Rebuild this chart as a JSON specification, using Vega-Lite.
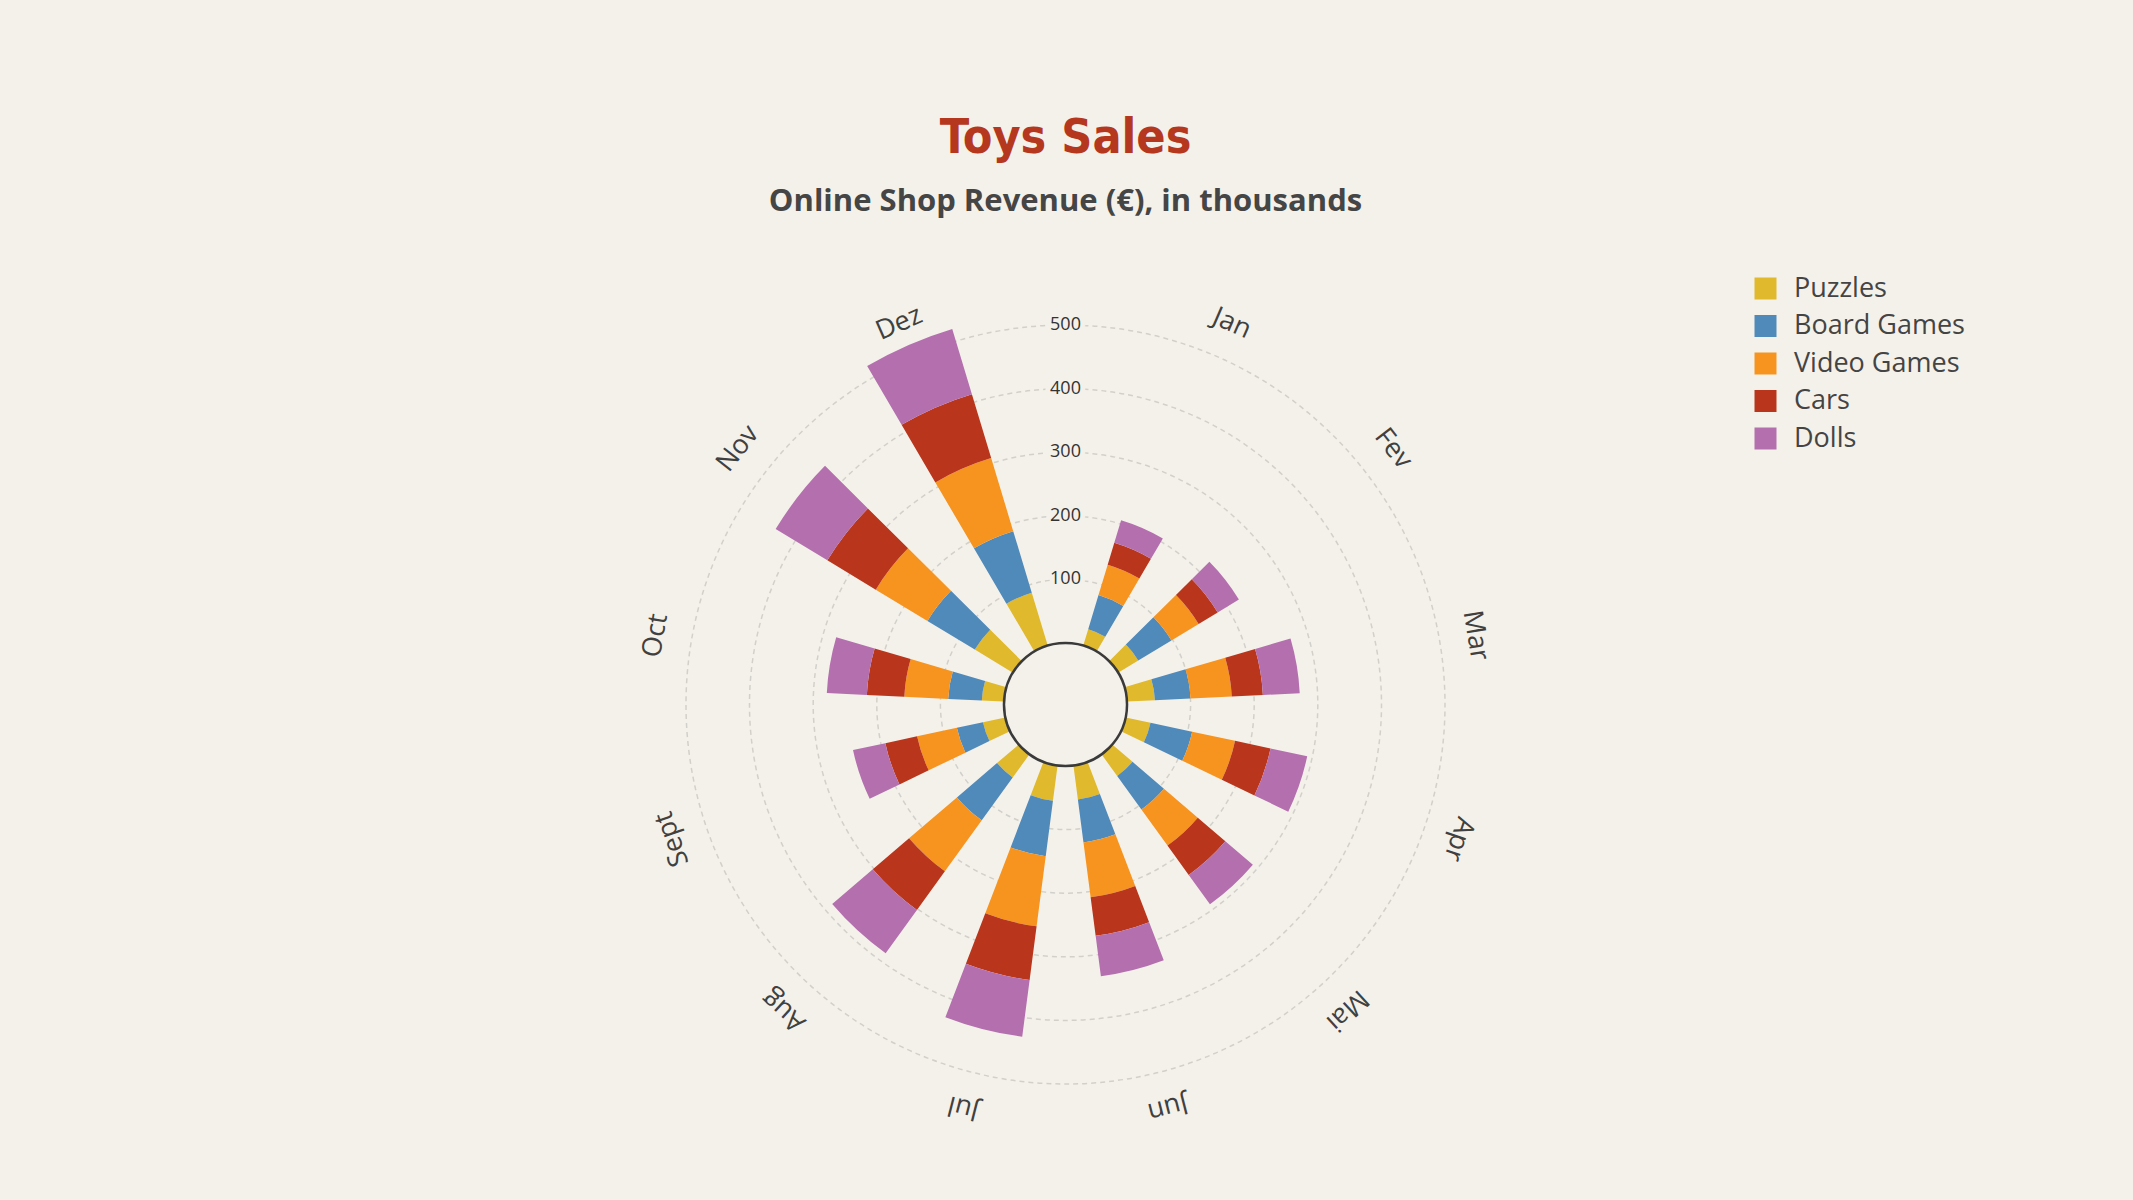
{
  "$schema": "https://vega.github.io/schema/vega-lite/v6.json",
  "description": "Toys sales, radial stacked bars by month",
  "background": "#f4f1ea",
  "autosize": {"type": "none"},
  "padding": {"top": 250, "left": 0, "right": 2, "bottom": 41},
  "width": 2131,
  "height": 909,
  "title": {
    "text": "Toys Sales",
    "subtitle": "Online Shop Revenue (€), in thousands",
    "anchor": "middle",
    "frame": "group",
    "font": "'DejaVu Sans Condensed', Roboto, sans-serif",
    "fontSize": 48,
    "fontWeight": "bold",
    "color": "#b5371e",
    "subtitleFont": "Open Sans",
    "subtitleFontSize": 31,
    "subtitleFontWeight": "bold",
    "subtitleColor": "#454545",
    "subtitlePadding": 24,
    "offset": 33
  },
  "datasets": {
    "sales": [
      {"month": "Jan", "cat": "Puzzles", "value": 27},
      {"month": "Jan", "cat": "Board Games", "value": 56},
      {"month": "Jan", "cat": "Video Games", "value": 50},
      {"month": "Jan", "cat": "Cars", "value": 36},
      {"month": "Jan", "cat": "Dolls", "value": 37},
      {"month": "Fev", "cat": "Puzzles", "value": 37},
      {"month": "Fev", "cat": "Board Games", "value": 61},
      {"month": "Fev", "cat": "Video Games", "value": 50},
      {"month": "Fev", "cat": "Cars", "value": 35},
      {"month": "Fev", "cat": "Dolls", "value": 39},
      {"month": "Mar", "cat": "Puzzles", "value": 44},
      {"month": "Mar", "cat": "Board Games", "value": 56},
      {"month": "Mar", "cat": "Video Games", "value": 65},
      {"month": "Mar", "cat": "Cars", "value": 49},
      {"month": "Mar", "cat": "Dolls", "value": 58},
      {"month": "Apr", "cat": "Puzzles", "value": 40},
      {"month": "Apr", "cat": "Board Games", "value": 67},
      {"month": "Apr", "cat": "Video Games", "value": 69},
      {"month": "Apr", "cat": "Cars", "value": 57},
      {"month": "Apr", "cat": "Dolls", "value": 59},
      {"month": "Mai", "cat": "Puzzles", "value": 42},
      {"month": "Mai", "cat": "Board Games", "value": 65},
      {"month": "Mai", "cat": "Video Games", "value": 70},
      {"month": "Mai", "cat": "Cars", "value": 57},
      {"month": "Mai", "cat": "Dolls", "value": 57},
      {"month": "Jun", "cat": "Puzzles", "value": 54},
      {"month": "Jun", "cat": "Board Games", "value": 68},
      {"month": "Jun", "cat": "Video Games", "value": 87},
      {"month": "Jun", "cat": "Cars", "value": 61},
      {"month": "Jun", "cat": "Dolls", "value": 64},
      {"month": "Jul", "cat": "Puzzles", "value": 56},
      {"month": "Jul", "cat": "Board Games", "value": 88},
      {"month": "Jul", "cat": "Video Games", "value": 111},
      {"month": "Jul", "cat": "Cars", "value": 85},
      {"month": "Jul", "cat": "Dolls", "value": 90},
      {"month": "Aug", "cat": "Puzzles", "value": 45},
      {"month": "Aug", "cat": "Board Games", "value": 83},
      {"month": "Aug", "cat": "Video Games", "value": 99},
      {"month": "Aug", "cat": "Cars", "value": 75},
      {"month": "Aug", "cat": "Dolls", "value": 84},
      {"month": "Sept", "cat": "Puzzles", "value": 36},
      {"month": "Sept", "cat": "Board Games", "value": 42},
      {"month": "Sept", "cat": "Video Games", "value": 64},
      {"month": "Sept", "cat": "Cars", "value": 51},
      {"month": "Sept", "cat": "Dolls", "value": 52},
      {"month": "Oct", "cat": "Puzzles", "value": 35},
      {"month": "Oct", "cat": "Board Games", "value": 53},
      {"month": "Oct", "cat": "Video Games", "value": 69},
      {"month": "Oct", "cat": "Cars", "value": 59},
      {"month": "Oct", "cat": "Dolls", "value": 63},
      {"month": "Nov", "cat": "Puzzles", "value": 70},
      {"month": "Nov", "cat": "Board Games", "value": 87},
      {"month": "Nov", "cat": "Video Games", "value": 95},
      {"month": "Nov", "cat": "Cars", "value": 89},
      {"month": "Nov", "cat": "Dolls", "value": 95},
      {"month": "Dez", "cat": "Puzzles", "value": 87},
      {"month": "Dez", "cat": "Board Games", "value": 101},
      {"month": "Dez", "cat": "Video Games", "value": 120},
      {"month": "Dez", "cat": "Cars", "value": 105},
      {"month": "Dez", "cat": "Dolls", "value": 107}
    ],
    "ticks": [
      {"tick": 100}, {"tick": 200}, {"tick": 300}, {"tick": 400}, {"tick": 500}
    ],
    "months": [
      {"month": "Jan"}, {"month": "Fev"}, {"month": "Mar"}, {"month": "Apr"},
      {"month": "Mai"}, {"month": "Jun"}, {"month": "Jul"}, {"month": "Aug"},
      {"month": "Sept"}, {"month": "Oct"}, {"month": "Nov"}, {"month": "Dez"}
    ]
  },
  "layer": [
    {
      "data": {"name": "ticks"},
      "mark": {"type": "arc", "filled": false, "stroke": "#d2d0ca", "strokeWidth": 1.5, "strokeDash": [5, 4], "theta": 0, "theta2": 6.2832, "radius2": 0},
      "encoding": {
        "radius": {"field": "tick", "type": "quantitative", "stack": null, "scale": {"domain": [0, 500], "range": [61.5, 379.5], "nice": false}}
      }
    },
    {
      "data": {"name": "sales"},
      "transform": [
        {"stack": "value", "groupby": ["month"], "as": ["r0", "r1"]}
      ],
      "mark": {"type": "arc"},
      "encoding": {
        "theta": {
          "field": "month", "type": "nominal",
          "scale": {
            "type": "band",
            "domain": ["Jan", "Fev", "Mar", "Apr", "Mai", "Jun", "Jul", "Aug", "Sept", "Oct", "Nov", "Dez"],
            "range": [0.16336, 6.11983],
            "paddingInner": 0.522,
            "paddingOuter": 0.261
          }
        },
        "radius": {"field": "r1", "type": "quantitative"},
        "radius2": {"field": "r0"},
        "color": {
          "field": "cat", "type": "nominal",
          "scale": {
            "domain": ["Puzzles", "Board Games", "Video Games", "Cars", "Dolls"],
            "range": ["#e0b92c", "#4f8abb", "#f6941f", "#b9361c", "#b46fae"]
          },
          "legend": {
            "title": null,
            "orient": "none",
            "legendX": 1752,
            "legendY": 25,
            "symbolType": "square",
            "symbolSize": 484,
            "symbolStrokeWidth": 0,
            "labelFont": "Open Sans",
            "labelFontSize": 27,
            "labelColor": "#444444",
            "labelOffset": 15,
            "labelLimit": 400,
            "rowPadding": 9.5
          }
        }
      }
    },
    {
      "data": {"values": [{}]},
      "mark": {"type": "arc", "fill": "#f4f1ea", "stroke": "#3a3a3a", "strokeWidth": 2.5, "theta": 0, "theta2": 6.2832, "radius2": 0},
      "encoding": {
        "radius": {"datum": 0, "stack": null}
      }
    },
    {
      "data": {"name": "ticks"},
      "mark": {"type": "text", "font": "Open Sans", "fontSize": 18, "fill": "#f4f1ea", "stroke": "#f4f1ea", "strokeWidth": 10, "strokeJoin": "round", "align": "center", "baseline": "middle", "theta": 0},
      "encoding": {
        "radius": {"field": "tick", "type": "quantitative"},
        "text": {"field": "tick", "type": "quantitative", "format": "d"}
      }
    },
    {
      "data": {"name": "ticks"},
      "mark": {"type": "text", "font": "Open Sans", "fontSize": 18, "color": "#333333", "align": "center", "baseline": "middle", "theta": 0},
      "encoding": {
        "radius": {"field": "tick", "type": "quantitative"},
        "text": {"field": "tick", "type": "quantitative", "format": "d"}
      }
    },
    {
      "data": {"name": "months"},
      "mark": {"type": "text", "font": "Open Sans", "fontSize": 27, "color": "#404040", "align": "center", "baseline": "middle"},
      "encoding": {
        "theta": {"field": "month", "type": "nominal"},
        "radius": {"datum": 557},
        "angle": {
          "field": "month", "type": "ordinal",
          "scale": {
            "type": "point",
            "domain": ["Jan", "Fev", "Mar", "Apr", "Mai", "Jun", "Jul", "Aug", "Sept", "Oct", "Nov", "Dez"],
            "range": [23.58, 336.42],
            "padding": 0
          },
          "legend": null
        },
        "text": {"field": "month", "type": "nominal"}
      }
    }
  ],
  "config": {
    "font": "Open Sans",
    "view": {"stroke": null}
  }
}
